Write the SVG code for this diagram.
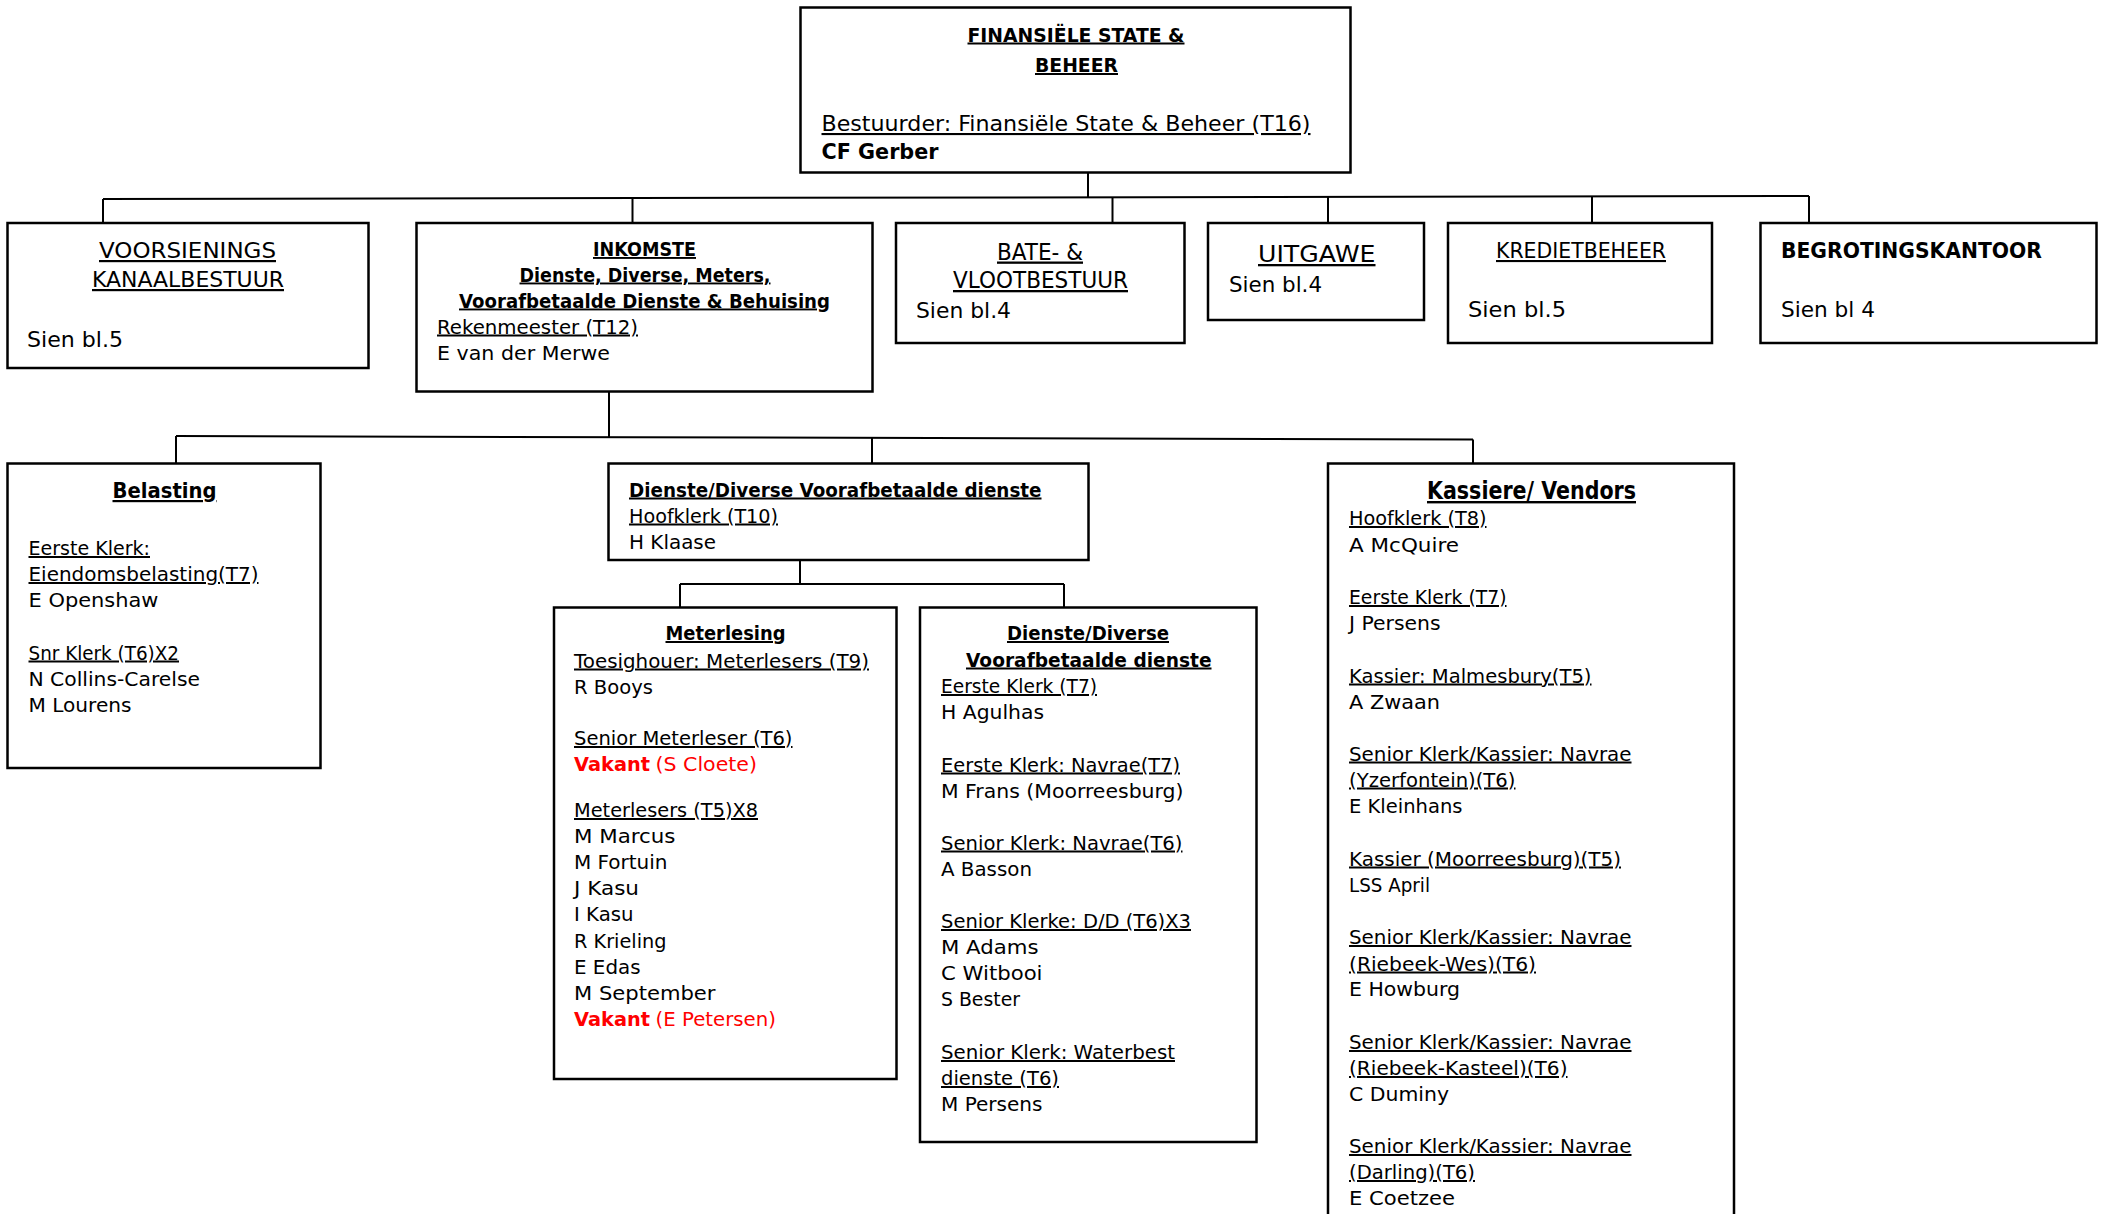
<svg xmlns="http://www.w3.org/2000/svg" width="2107" height="1214" viewBox="0 0 2107 1214">
<style>
text { font-family: "DejaVu Sans", "Liberation Sans", sans-serif; font-size: 20px; fill: #000; }
.b { font-weight: bold; }
.u { text-decoration: underline; }
.r { fill: #ff0000; }
.s22 { font-size: 22px; }
.s23 { font-size: 23px; }
.s19 { font-size: 19px; }
.s24 { font-size: 24px; }
.box { fill: #fff; stroke: #000; stroke-width: 2.5; }
#connectors path { stroke: #000; stroke-width: 2; fill: none; }
</style>
<rect x="0" y="0" width="2107" height="1214" fill="#fff"/>

<g id="connectors">
  <path d="M1088,173 V198"/>
  <path d="M103,199 L1809,196"/>
  <path d="M103,199 V223"/>
  <path d="M632.5,198 V223"/>
  <path d="M1112.5,197.5 V223"/>
  <path d="M1328,197 V223"/>
  <path d="M1592,196.5 V223"/>
  <path d="M1809,196 V223"/>
  <path d="M609,391.5 V437"/>
  <path d="M176,436 L1473,439.5"/>
  <path d="M176,436 V463.5"/>
  <path d="M872,437.5 V463.5"/>
  <path d="M1473,439.5 V463.5"/>
  <path d="M800,560 V584"/>
  <path d="M680,584 H1064"/>
  <path d="M680,584 V607.5"/>
  <path d="M1064,584 V607.5"/>
</g>

<g id="finansiele-state">
  <rect class="box" x="800.5" y="7.5" width="550" height="165"/>
  <text class="b u" x="967.5" y="41.5" textLength="217" lengthAdjust="spacingAndGlyphs">FINANSIËLE STATE &amp;</text>
  <text class="b u" x="1035" y="72" textLength="83" lengthAdjust="spacingAndGlyphs">BEHEER</text>
  <text class="u" x="821.5" y="131" style="font-size:21px" textLength="489" lengthAdjust="spacingAndGlyphs">Bestuurder: Finansiële State &amp; Beheer (T16)</text>
  <text class="b" x="821.5" y="158.5" style="font-size:21px" textLength="117" lengthAdjust="spacingAndGlyphs">CF Gerber</text>
</g>

<g id="voorsienings">
  <rect class="box" x="7.5" y="223" width="361" height="145"/>
  <text class="u s22" x="99" y="258" textLength="177" lengthAdjust="spacingAndGlyphs">VOORSIENINGS</text>
  <text class="u s22" x="92" y="287" textLength="192" lengthAdjust="spacingAndGlyphs">KANAALBESTUUR</text>
  <text class="s22" x="27" y="347" textLength="96" lengthAdjust="spacingAndGlyphs">Sien bl.5</text>
</g>

<g id="inkomste">
  <rect class="box" x="416.5" y="223" width="456" height="168.5"/>
  <text class="b u s19" x="593" y="256" textLength="103" lengthAdjust="spacingAndGlyphs">INKOMSTE</text>
  <text class="b u s19" x="519.5" y="281.5" textLength="251" lengthAdjust="spacingAndGlyphs">Dienste, Diverse, Meters,</text>
  <text class="b u s19" x="459" y="307.5" textLength="371" lengthAdjust="spacingAndGlyphs">Voorafbetaalde Dienste &amp; Behuising</text>
  <text class="u" x="437" y="333.5" textLength="201" lengthAdjust="spacingAndGlyphs">Rekenmeester (T12)</text>
  <text x="437" y="360" textLength="173" lengthAdjust="spacingAndGlyphs">E van der Merwe</text>
</g>

<g id="bate-vloot">
  <rect class="box" x="896" y="223" width="288.5" height="120"/>
  <text class="u s23" x="997" y="259.5" textLength="86" lengthAdjust="spacingAndGlyphs">BATE- &amp;</text>
  <text class="u s23" x="953" y="288" textLength="175" lengthAdjust="spacingAndGlyphs">VLOOTBESTUUR</text>
  <text class="s22" x="916" y="318" textLength="95" lengthAdjust="spacingAndGlyphs">Sien bl.4</text>
</g>

<g id="uitgawe">
  <rect class="box" x="1208" y="223" width="216" height="97"/>
  <text class="u s23" x="1258" y="262" textLength="117.5" lengthAdjust="spacingAndGlyphs">UITGAWE</text>
  <text class="s22" x="1229" y="291.5" textLength="93" lengthAdjust="spacingAndGlyphs">Sien bl.4</text>
</g>

<g id="kredietbeheer">
  <rect class="box" x="1448" y="223" width="264" height="120"/>
  <text class="u" x="1496" y="258" style="font-size:21px" textLength="170" lengthAdjust="spacingAndGlyphs">KREDIETBEHEER</text>
  <text class="s22" x="1468" y="317" textLength="98" lengthAdjust="spacingAndGlyphs">Sien bl.5</text>
</g>

<g id="begrotingskantoor">
  <rect class="box" x="1760.5" y="223" width="336" height="120"/>
  <text class="b" x="1781" y="258" style="font-size:21px" textLength="261" lengthAdjust="spacingAndGlyphs">BEGROTINGSKANTOOR</text>
  <text class="s22" x="1781" y="317" textLength="94" lengthAdjust="spacingAndGlyphs">Sien bl 4</text>
</g>

<g id="belasting">
  <rect class="box" x="7.5" y="463.5" width="313" height="304.5"/>
  <text class="b u s22" x="112.5" y="498" textLength="104" lengthAdjust="spacingAndGlyphs">Belasting</text>
  <text class="u" x="28.5" y="555" textLength="121.5" lengthAdjust="spacingAndGlyphs">Eerste Klerk:</text>
  <text class="u" x="28.5" y="581" textLength="230" lengthAdjust="spacingAndGlyphs">Eiendomsbelasting(T7)</text>
  <text x="28.5" y="607" textLength="130" lengthAdjust="spacingAndGlyphs">E Openshaw</text>
  <text class="u" x="28.5" y="659.5" textLength="150.5" lengthAdjust="spacingAndGlyphs">Snr Klerk (T6)X2</text>
  <text x="28.5" y="685.5" textLength="171.5" lengthAdjust="spacingAndGlyphs">N Collins-Carelse</text>
  <text x="28.5" y="711.5" textLength="103" lengthAdjust="spacingAndGlyphs">M Lourens</text>
</g>

<g id="dienste-diverse-hoof">
  <rect class="box" x="608.5" y="463.5" width="480" height="96.5"/>
  <text class="b u" x="629" y="496.5" textLength="412.5" lengthAdjust="spacingAndGlyphs">Dienste/Diverse Voorafbetaalde dienste</text>
  <text class="u" x="629" y="522.5" textLength="149" lengthAdjust="spacingAndGlyphs">Hoofklerk (T10)</text>
  <text x="629" y="548.5" textLength="87" lengthAdjust="spacingAndGlyphs">H Klaase</text>
</g>

<g id="meterlesing">
  <rect class="box" x="554" y="607.5" width="342.5" height="471.5"/>
  <text class="b u" x="665.5" y="640" textLength="120" lengthAdjust="spacingAndGlyphs">Meterlesing</text>
  <text class="u" x="574" y="667.5" textLength="295" lengthAdjust="spacingAndGlyphs">Toesighouer: Meterlesers (T9)</text>
  <text x="574" y="693.5" textLength="79" lengthAdjust="spacingAndGlyphs">R Booys</text>
  <text class="u" x="574" y="745" textLength="218.5" lengthAdjust="spacingAndGlyphs">Senior Meterleser (T6)</text>
  <text class="b r" x="574" y="771" textLength="76" lengthAdjust="spacingAndGlyphs">Vakant</text>
  <text class="r" x="655.5" y="771" textLength="101.5" lengthAdjust="spacingAndGlyphs">(S Cloete)</text>
  <text class="u" x="574" y="817" textLength="184" lengthAdjust="spacingAndGlyphs">Meterlesers (T5)X8</text>
  <text x="574" y="843.1" textLength="101.5" lengthAdjust="spacingAndGlyphs">M Marcus</text>
  <text x="574" y="869.2" textLength="93.5" lengthAdjust="spacingAndGlyphs">M Fortuin</text>
  <text x="574" y="895.3" textLength="65" lengthAdjust="spacingAndGlyphs">J Kasu</text>
  <text x="574" y="921.4" textLength="59.5" lengthAdjust="spacingAndGlyphs">I Kasu</text>
  <text x="574" y="947.5" textLength="92.5" lengthAdjust="spacingAndGlyphs">R Krieling</text>
  <text x="574" y="973.6" textLength="66.5" lengthAdjust="spacingAndGlyphs">E Edas</text>
  <text x="574" y="999.7" textLength="141.5" lengthAdjust="spacingAndGlyphs">M September</text>
  <text class="b r" x="574" y="1025.8" textLength="76" lengthAdjust="spacingAndGlyphs">Vakant</text>
  <text class="r" x="655.5" y="1025.8" textLength="120.5" lengthAdjust="spacingAndGlyphs">(E Petersen)</text>
</g>

<g id="dienste-diverse">
  <rect class="box" x="920" y="607.5" width="336.5" height="534.5"/>
  <text class="b u" x="1007" y="640" textLength="162" lengthAdjust="spacingAndGlyphs">Dienste/Diverse</text>
  <text class="b u" x="966" y="666.5" textLength="245.5" lengthAdjust="spacingAndGlyphs">Voorafbetaalde dienste</text>
  <text class="u" x="941" y="693" textLength="156" lengthAdjust="spacingAndGlyphs">Eerste Klerk (T7)</text>
  <text x="941" y="719" textLength="103" lengthAdjust="spacingAndGlyphs">H Agulhas</text>
  <text class="u" x="941" y="771.5" textLength="239" lengthAdjust="spacingAndGlyphs">Eerste Klerk: Navrae(T7)</text>
  <text x="941" y="797.5" textLength="242.5" lengthAdjust="spacingAndGlyphs">M Frans (Moorreesburg)</text>
  <text class="u" x="941" y="849.5" textLength="241.5" lengthAdjust="spacingAndGlyphs">Senior Klerk: Navrae(T6)</text>
  <text x="941" y="875.5" textLength="91" lengthAdjust="spacingAndGlyphs">A Basson</text>
  <text class="u" x="941" y="928" textLength="250" lengthAdjust="spacingAndGlyphs">Senior Klerke: D/D (T6)X3</text>
  <text x="941" y="954" textLength="97.5" lengthAdjust="spacingAndGlyphs">M Adams</text>
  <text x="941" y="980" textLength="101.5" lengthAdjust="spacingAndGlyphs">C Witbooi</text>
  <text x="941" y="1006" textLength="79" lengthAdjust="spacingAndGlyphs">S Bester</text>
  <text class="u" x="941" y="1059" textLength="234" lengthAdjust="spacingAndGlyphs">Senior Klerk: Waterbest</text>
  <text class="u" x="941" y="1085" textLength="118" lengthAdjust="spacingAndGlyphs">dienste (T6)</text>
  <text x="941" y="1111" textLength="101.5" lengthAdjust="spacingAndGlyphs">M Persens</text>
</g>

<g id="kassiere">
  <rect class="box" x="1328" y="463.5" width="406" height="800"/>
  <text class="b u s24" x="1427" y="499" textLength="209" lengthAdjust="spacingAndGlyphs">Kassiere/ Vendors</text>
  <text class="u" x="1349" y="525" textLength="137.5" lengthAdjust="spacingAndGlyphs">Hoofklerk (T8)</text>
  <text x="1349" y="551.5" textLength="110" lengthAdjust="spacingAndGlyphs">A McQuire</text>
  <text class="u" x="1349" y="604" textLength="157.5" lengthAdjust="spacingAndGlyphs">Eerste Klerk (T7)</text>
  <text x="1349" y="630" textLength="91.5" lengthAdjust="spacingAndGlyphs">J Persens</text>
  <text class="u" x="1349" y="682.5" textLength="242.5" lengthAdjust="spacingAndGlyphs">Kassier: Malmesbury(T5)</text>
  <text x="1349" y="708.5" textLength="91" lengthAdjust="spacingAndGlyphs">A Zwaan</text>
  <text class="u" x="1349" y="760.5" textLength="282.5" lengthAdjust="spacingAndGlyphs">Senior Klerk/Kassier: Navrae</text>
  <text class="u" x="1349" y="786.5" textLength="166.5" lengthAdjust="spacingAndGlyphs">(Yzerfontein)(T6)</text>
  <text x="1349" y="812.5" textLength="113.5" lengthAdjust="spacingAndGlyphs">E Kleinhans</text>
  <text class="u" x="1349" y="865.5" textLength="272" lengthAdjust="spacingAndGlyphs">Kassier (Moorreesburg)(T5)</text>
  <text x="1349" y="891.5" textLength="81" lengthAdjust="spacingAndGlyphs">LSS April</text>
  <text class="u" x="1349" y="944" textLength="282.5" lengthAdjust="spacingAndGlyphs">Senior Klerk/Kassier: Navrae</text>
  <text class="u" x="1349" y="970.5" textLength="187" lengthAdjust="spacingAndGlyphs">(Riebeek-Wes)(T6)</text>
  <text x="1349" y="996" textLength="111" lengthAdjust="spacingAndGlyphs">E Howburg</text>
  <text class="u" x="1349" y="1049" textLength="282.5" lengthAdjust="spacingAndGlyphs">Senior Klerk/Kassier: Navrae</text>
  <text class="u" x="1349" y="1075" textLength="218.5" lengthAdjust="spacingAndGlyphs">(Riebeek-Kasteel)(T6)</text>
  <text x="1349" y="1100.5" textLength="100" lengthAdjust="spacingAndGlyphs">C Duminy</text>
  <text class="u" x="1349" y="1153" textLength="282.5" lengthAdjust="spacingAndGlyphs">Senior Klerk/Kassier: Navrae</text>
  <text class="u" x="1349" y="1179" textLength="126" lengthAdjust="spacingAndGlyphs">(Darling)(T6)</text>
  <text x="1349" y="1205" textLength="106" lengthAdjust="spacingAndGlyphs">E Coetzee</text>
</g>
</svg>
